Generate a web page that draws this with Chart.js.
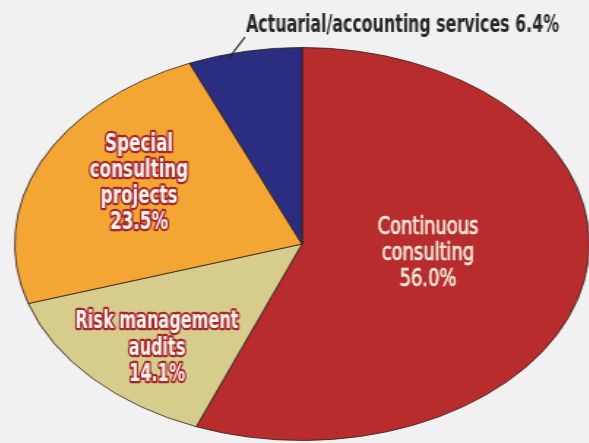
<!DOCTYPE html>
<html>
<head>
<meta charset="utf-8">
<script src="https://cdn.jsdelivr.net/npm/chart.js@4.4.0/dist/chart.umd.min.js"></script>
<style>
  html, body { margin: 0; padding: 0; width: 589px; height: 443px; overflow: hidden; background: #f1f1f2; }
  #wrap { position: relative; width: 589px; height: 443px; overflow: hidden; }
  /* the pie is drawn round and stretched into the ellipse of the original */
  #pie { position: absolute; left: 0; top: 0; transform-origin: 302px 244px; transform: scaleX(1.462); }
</style>
</head>
<body>
<div id="wrap"><canvas id="pie" width="589" height="443"></canvas></div>
<script>
const categories = ['Continuous consulting', 'Risk management audits', 'Special consulting projects', 'Actuarial/accounting services'];
const shares = [56.0, 14.1, 23.5, 6.4];
const labelLines = [['Continuous', 'consulting'], ['Risk management', 'audits'], ['Special', 'consulting', 'projects']];
const sliceColors = ['#b82c2e', '#d6cc8c', '#f3a634', '#2b2d80'];

const STRETCH = 1.462;
const FONT = '"DejaVu Sans Condensed", "DejaVu Sans", sans-serif';
const SIZE = 25;

// where the text sits, in page pixels (after the stretch)
const labelStyle = [
  { x: 428, baseline: 234, step: 26, width: 101, weight: 'normal', fill: '#f3ecdc', stroke: '#f3ecdc', sw: 0.7 },
  { x: 157, baseline: 328, step: 26.5, width: 163, weight: 'bold', fill: '#fdf6f0', stroke: '#a8262a', sw: 4.5 },
  { x: 139, baseline: 151, step: 26, width: 68, weight: 'bold', fill: '#fdf6f0', stroke: '#a8262a', sw: 4.5 }
];
const outsideLabel = { x: 246, baseline: 32, width: 313, lineFrom: [245, 37], lineTo: [229, 58] };

const pct = v => v.toFixed(1) + '%';

const labelPlugin = {
  id: 'sliceLabels',
  afterDraw(chart) {
    const ctx = chart.ctx;
    const cx = chart.getDatasetMeta(0).data[0].x;
    ctx.save();
    // undo the css stretch so text keeps its shape
    ctx.translate(cx, 0);
    ctx.scale(1 / STRETCH, 1);
    ctx.translate(-cx, 0);
    ctx.textBaseline = 'alphabetic';
    ctx.lineJoin = 'round';

    labelStyle.forEach((st, i) => {
      const lines = labelLines[i].concat([pct(shares[i])]);
      ctx.font = st.weight + ' ' + SIZE + 'px ' + FONT;
      const squeeze = st.width / ctx.measureText(lines[0]).width;
      ctx.textAlign = 'center';
      lines.forEach((line, j) => {
        ctx.save();
        ctx.translate(st.x, st.baseline + j * st.step);
        ctx.scale(squeeze, 1);
        ctx.strokeStyle = st.stroke;
        ctx.lineWidth = st.sw;
        ctx.strokeText(line, 0, 0);
        ctx.fillStyle = st.fill;
        ctx.fillText(line, 0, 0);
        ctx.restore();
      });
    });

    // small slice gets its label outside with a leader line
    const text = categories[3] + ' ' + pct(shares[3]);
    ctx.font = 'bold ' + SIZE + 'px ' + FONT;
    const squeeze = outsideLabel.width / ctx.measureText(text).width;
    ctx.save();
    ctx.translate(outsideLabel.x, outsideLabel.baseline);
    ctx.scale(squeeze, 1);
    ctx.textAlign = 'left';
    ctx.fillStyle = '#262626';
    ctx.fillText(text, 0, 0);
    ctx.restore();

    ctx.strokeStyle = '#262626';
    ctx.lineWidth = 1.4;
    ctx.beginPath();
    ctx.moveTo(outsideLabel.lineFrom[0], outsideLabel.lineFrom[1]);
    ctx.lineTo(outsideLabel.lineTo[0], outsideLabel.lineTo[1]);
    ctx.stroke();
    ctx.restore();
  }
};

new Chart(document.getElementById('pie'), {
  type: 'pie',
  data: {
    labels: categories,
    datasets: [{
      data: shares,
      backgroundColor: sliceColors,
      borderColor: 'rgba(55, 35, 35, 0.85)',
      borderWidth: 1
    }]
  },
  options: {
    responsive: false,
    animation: false,
    events: [],
    layout: { padding: { left: 105, right: 90, top: 47, bottom: 2 } },
    plugins: {
      legend: { display: false },
      tooltip: { enabled: false }
    }
  },
  plugins: [labelPlugin]
});
</script>
</body>
</html>
